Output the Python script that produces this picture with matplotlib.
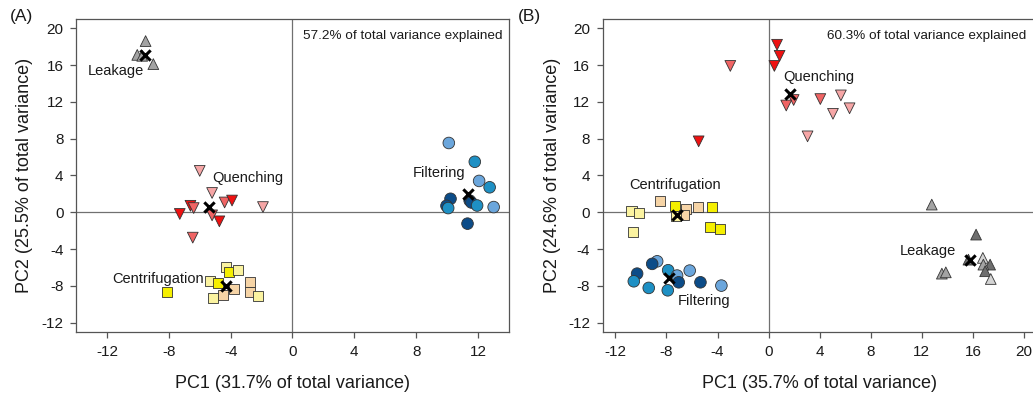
import matplotlib
matplotlib.use("Agg")
import matplotlib.pyplot as plt

plt.rcParams['font.family'] = ['Liberation Sans', 'DejaVu Sans']
plt.rcParams['axes.unicode_minus'] = False

# ---------------- Panel A data ----------------
a_leak_x = [-9.5, -10.04, -9.72, -9.0]
a_leak_y = [18.6, 17.1, 17.0, 16.1]
a_leak_s = ['m', 'm', 'm', 'm']
a_leak_c = (-9.57, 17.1)

a_quen_x = [-6.0, -5.2, -4.39, -3.91, -6.6, -6.39, -7.29, -5.2, -4.73, -1.91, -6.45]
a_quen_y = [4.5, 2.1, 1.07, 1.28, 0.71, 0.46, -0.18, -0.33, -0.98, 0.57, -2.75]
a_quen_s = ['l', 'l', 'm', 'd', 'd', 'm', 'd', 'm', 'd', 'l', 'm']
a_quen_c = (-5.37, 0.57)

a_cent_x = [-4.30, -4.13, -3.52, -5.35, -4.81, -3.81, -2.77, -2.77, -2.23, -4.49, -5.14, -8.10]
a_cent_y = [-5.94, -6.43, -6.29, -7.51, -7.69, -8.34, -7.55, -8.70, -9.13, -8.99, -9.35, -8.70]
a_cent_s = ['l', 'd', 'l', 'l', 'd', 't', 't', 't', 'l', 't', 'l', 'd']
a_cent_c = (-4.30, -8.05)

a_filt_x = [10.11, 11.79, 12.07, 12.75, 10.22, 9.96, 10.07, 11.46, 11.57, 11.94, 13.01, 11.32]
a_filt_y = [7.53, 5.49, 3.41, 2.72, 1.47, 0.71, 0.46, 1.28, 1.07, 0.74, 0.57, -1.23]
a_filt_s = ['l', 'm', 'l', 'm', 'd', 'd', 'm', 'd', 'd', 'm', 'l', 'd']
a_filt_c = (11.36, 2.0)

# ---------------- Panel B data ----------------
b_quen_x = [0.66, 0.86, 0.45, -3.0, -5.48, 1.96, 1.38, 4.05, 5.66, 5.04, 6.34, 3.05]
b_quen_y = [18.2, 17.0, 15.9, 15.9, 7.71, 12.2, 11.6, 12.3, 12.7, 10.7, 11.3, 8.25]
b_quen_s = ['d', 'd', 'd', 'm', 'd', 'm', 'm', 'm', 'l', 'l', 'l', 'l']
b_quen_c = (1.70, 12.9)

b_cent_x = [-10.74, -10.17, -10.64, -8.53, -7.30, -6.44, -5.56, -4.43, -6.60, -7.22, -4.56, -3.83]
b_cent_y = [0.11, -0.07, -2.13, 1.27, 0.73, 0.40, 0.54, 0.58, -0.25, -0.43, -1.59, -1.77]
b_cent_s = ['l', 'l', 'l', 't', 'd', 't', 't', 'd', 't', 'l', 'd', 'd']
b_cent_c = (-7.17, -0.25)

b_filt_x = [-8.73, -9.12, -10.30, -10.56, -9.39, -7.87, -7.17, -7.04, -7.90, -6.18, -5.34, -3.70]
b_filt_y = [-5.32, -5.6, -6.66, -7.49, -8.21, -6.29, -6.87, -7.6, -8.47, -6.33, -7.6, -7.96]
b_filt_s = ['l', 'd', 'd', 'm', 'm', 'm', 'l', 'd', 'm', 'l', 'd', 'l']
b_filt_c = (-7.77, -7.13)

b_leak_x = [12.78, 16.25, 16.78, 17.35, 16.82, 16.96, 17.40, 13.57, 13.88, 15.65]
b_leak_y = [0.84, -2.42, -4.95, -5.68, -5.68, -6.4, -7.24, -6.66, -6.52, -5.14]
b_leak_s = ['m', 'd', 'l', 'd', 'm', 'd', 'l', 'm', 'm', 'd']
b_leak_c = (15.78, -5.14)

x_ticks_a = [-12, -8, -4, 0, 4, 8, 12]
x_ticks_b = [-12, -8, -4, 0, 4, 8, 12, 16, 20]
y_ticks = [-12, -8, -4, 0, 4, 8, 12, 16, 20]

# ---------------- styles ----------------
shades = {
    'leak': {'d': '#6e6e6e', 'm': '#a3a3a3', 'l': '#d4d4d4'},
    'quen': {'d': '#ee1111', 'm': '#f06464', 'l': '#f6a6a6'},
    'cent': {'d': '#f5ef00', 'l': '#fbf3a0', 't': '#f6d4a6'},
    'filt': {'d': '#0c4c88', 'm': '#1e90c4', 'l': '#6ba6dc'},
}
markers = {'leak': '^', 'quen': 'v', 'cent': 's', 'filt': 'o'}
sizes = {'leak': 60, 'quen': 60, 'cent': 52, 'filt': 70}


def draw_group(ax, key, xs, ys, ss, cen):
    cols = [shades[key][s] for s in ss]
    ax.scatter(xs, ys, marker=markers[key], s=sizes[key], c=cols,
               edgecolors='#333333', linewidths=0.6, zorder=3)
    ax.scatter([cen[0]], [cen[1]], marker='x', s=55, c='black',
               linewidths=2.2, zorder=4)


fig = plt.figure(figsize=(10.33, 3.93), dpi=100)
axA = fig.add_axes([0.0736, 0.1552, 0.4191, 0.7965])
axB = fig.add_axes([0.5834, 0.1552, 0.4202, 0.7965])

for ax, xl, xt in [(axA, (-14, 14), x_ticks_a), (axB, (-13, 21), x_ticks_b)]:
    ax.set_xlim(*xl)
    ax.set_ylim(-13, 21)
    ax.set_xticks(xt)
    ax.set_yticks(y_ticks)
    ax.axhline(0, color='#707070', lw=0.9, zorder=1)
    ax.axvline(0, color='#707070', lw=0.9, zorder=1)
    for sp in ax.spines.values():
        sp.set_color('#555555')
        sp.set_linewidth(0.9)
    ax.tick_params(direction='out', length=4, width=0.9, color='#555555',
                   labelsize=11, pad=5, labelcolor='#1a1a1a')

draw_group(axA, 'leak', a_leak_x, a_leak_y, a_leak_s, a_leak_c)
draw_group(axA, 'quen', a_quen_x, a_quen_y, a_quen_s, a_quen_c)
draw_group(axA, 'cent', a_cent_x, a_cent_y, a_cent_s, a_cent_c)
draw_group(axA, 'filt', a_filt_x, a_filt_y, a_filt_s, a_filt_c)

draw_group(axB, 'quen', b_quen_x, b_quen_y, b_quen_s, b_quen_c)
draw_group(axB, 'cent', b_cent_x, b_cent_y, b_cent_s, b_cent_c)
draw_group(axB, 'filt', b_filt_x, b_filt_y, b_filt_s, b_filt_c)
draw_group(axB, 'leak', b_leak_x, b_leak_y, b_leak_s, b_leak_c)

lab = dict(fontsize=10.5, color='#1a1a1a', va='center', zorder=5)
axA.text(-13.25, 15.3, 'Leakage', ha='left', **lab)
axA.text(-5.2, 3.75, 'Quenching', ha='left', **lab)
axA.text(-11.65, -7.2, 'Centrifugation', ha='left', **lab)
axA.text(7.77, 4.3, 'Filtering', ha='left', **lab)

axB.text(1.17, 14.65, 'Quenching', ha='left', **lab)
axB.text(-10.88, 3.0, 'Centrifugation', ha='left', **lab)
axB.text(-7.12, -9.66, 'Filtering', ha='left', **lab)
axB.text(10.3, -4.16, 'Leakage', ha='left', **lab)

axA.text(0.985, 0.965, '57.2% of total variance explained', transform=axA.transAxes,
         ha='right', va='top', fontsize=9.7, color='#1a1a1a')
axB.text(0.975, 0.965, '60.3% of total variance explained', transform=axB.transAxes,
         ha='right', va='top', fontsize=9.7, color='#1a1a1a')

axA.set_xlabel('PC1 (31.7% of total variance)', fontsize=13, labelpad=12, color='#1a1a1a')
axA.set_ylabel('PC2 (25.5% of total variance)', fontsize=13, labelpad=6, color='#1a1a1a')
axB.set_xlabel('PC1 (35.7% of total variance)', fontsize=13, labelpad=12, color='#1a1a1a')
axB.set_ylabel('PC2 (24.6% of total variance)', fontsize=13, labelpad=5, color='#1a1a1a')

fig.text(10 / 1033, 1 - 17 / 393, '(A)', fontsize=12.5, ha='left', va='center', color='#1a1a1a')
fig.text(518 / 1033, 1 - 17 / 393, '(B)', fontsize=12.5, ha='left', va='center', color='#1a1a1a')

fig.savefig('out.png', dpi=100)
